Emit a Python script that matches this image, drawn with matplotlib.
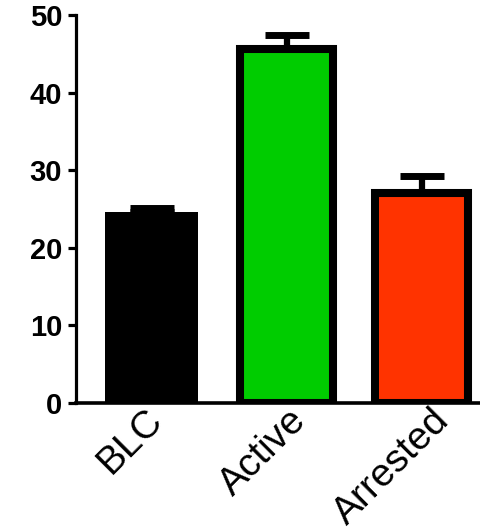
import matplotlib.pyplot as plt
import matplotlib.transforms as mtransforms

groups = ['BLC', 'Active', 'Arrested']
means = [24.6, 45.6, 27.1]
sem = [0.5, 1.8, 2.2]
colors = ['#000000', '#00cc00', '#ff3300']

plt.rcParams['font.family'] = ['Liberation Sans', 'DejaVu Sans']

fig = plt.figure(figsize=(4.81, 5.31), dpi=100)
ax = fig.add_axes([0.158, 0.241, 0.842, 0.7307])

x = list(range(len(groups)))
for i in x:
    lw = 0 if i == 0 else 5.8
    ax.bar(x[i], means[i], width=0.69, color=colors[i], edgecolor='black',
           linewidth=lw, zorder=2)
ax.errorbar(x, means, yerr=[[0] * len(sem), sem], fmt='none', ecolor='black',
            elinewidth=4.5, capsize=16, capthick=5, zorder=1)

ax.set_ylim(0, 50)
ax.set_xlim(-0.56, 2.44)
ax.set_yticks([0, 10, 20, 30, 40, 50])
ax.set_xticks(x)
ax.set_xticklabels([])

# category labels drawn by hand, slightly spread out like the original
down = mtransforms.ScaledTranslation(0, -0.12, fig.dpi_scale_trans)
for i, name in enumerate(groups):
    ax.text(i * 1.063 + 0.04, 0, name, transform=ax.get_xaxis_transform() + down,
            rotation=45, ha='right', va='center', rotation_mode='anchor',
            fontsize=28)

for lab in ax.get_yticklabels():
    lab.set_fontweight('bold')
    lab.set_fontsize(21)

ax.spines['top'].set_visible(False)
ax.spines['right'].set_visible(False)
ax.spines['left'].set_linewidth(2.3)
ax.spines['bottom'].set_linewidth(2.6)
ax.tick_params(axis='y', length=6, width=2.3, pad=4)
ax.tick_params(axis='x', length=0)

fig.savefig('out.png', dpi=100)
